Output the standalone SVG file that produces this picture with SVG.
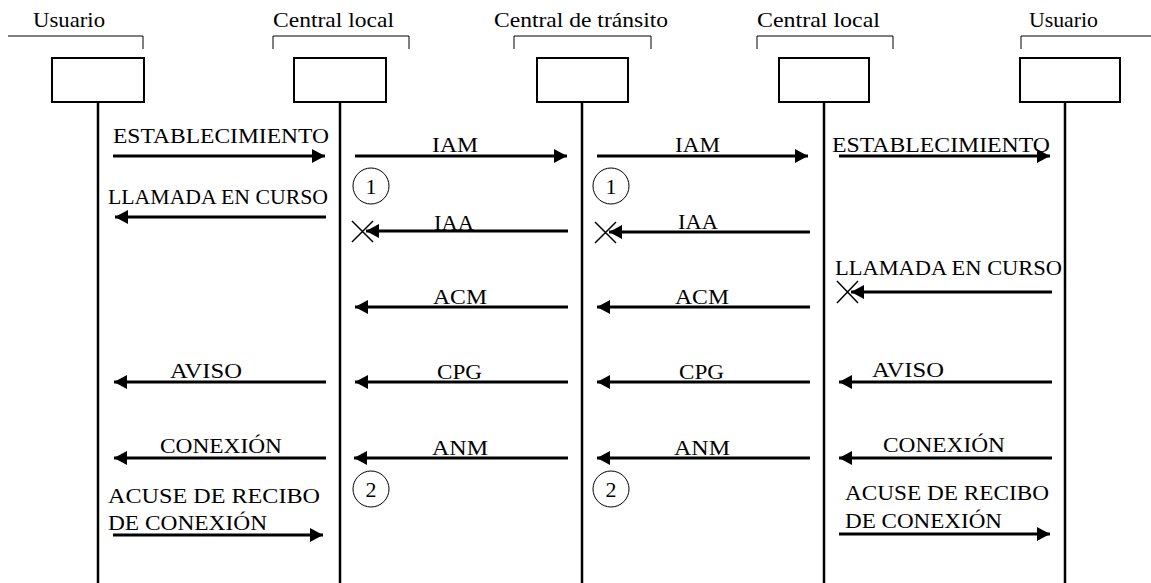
<svg xmlns="http://www.w3.org/2000/svg" width="1151" height="583" viewBox="0 0 1151 583" font-family="'Liberation Serif', 'Times New Roman', serif" font-size="22">
<style>
text{font-family:'Liberation Serif','Times New Roman',serif;font-size:22px;fill:#000}
.br{fill:none;stroke:#000;stroke-width:1}
.box{fill:#fff;stroke:#000;stroke-width:2}
.life{stroke:#000;stroke-width:2.5}
.msg{stroke:#000;stroke-width:3;fill:none;marker-end:url(#ah)}
.x{stroke:#000;stroke-width:1.5;fill:none}
.c{fill:none;stroke:#000;stroke-width:1}
.n{text-anchor:middle}
</style>
<defs>
<marker id="ah" markerUnits="userSpaceOnUse" viewBox="0 0 13 14" refX="13" refY="7" markerWidth="13" markerHeight="14" orient="auto">
<path d="M0,0 L13,7 L0,14 Z" fill="#000"/>
</marker>
</defs>
<rect width="1151" height="583" fill="#fff"/>
<g id="node-usuario-a">
<text x="33" y="27" textLength="72" lengthAdjust="spacingAndGlyphs">Usuario</text>
<path class="br" d="M8,36 H143 V49"/>
<line class="life" x1="98" y1="102" x2="98" y2="583"/>
<rect class="box" x="52" y="58" width="92" height="44"/>
</g>
<g id="node-central-local-a">
<text x="273" y="27" textLength="121" lengthAdjust="spacingAndGlyphs">Central local</text>
<path class="br" d="M273,49 V36 H409 V49"/>
<line class="life" x1="340" y1="102" x2="340" y2="583"/>
<rect class="box" x="294" y="58" width="92" height="44"/>
</g>
<g id="node-central-transito">
<text x="494" y="27" textLength="174" lengthAdjust="spacingAndGlyphs">Central de tránsito</text>
<path class="br" d="M514,49 V36 H651 V49"/>
<line class="life" x1="582" y1="102" x2="582" y2="583"/>
<rect class="box" x="537" y="58" width="91" height="44"/>
</g>
<g id="node-central-local-b">
<text x="757" y="27" textLength="123" lengthAdjust="spacingAndGlyphs">Central local</text>
<path class="br" d="M757,49 V36 H893 V49"/>
<line class="life" x1="824" y1="102" x2="824" y2="583"/>
<rect class="box" x="779" y="58" width="90" height="44"/>
</g>
<g id="node-usuario-b">
<text x="1029" y="27" textLength="69" lengthAdjust="spacingAndGlyphs">Usuario</text>
<path class="br" d="M1021,49 V36 H1151"/>
<line class="life" x1="1065" y1="102" x2="1065" y2="583"/>
<rect class="box" x="1020" y="58" width="100" height="44"/>
</g>
<g id="connectors">
<line class="msg" x1="113" y1="156" x2="325" y2="156"/>
<line class="msg" x1="355" y1="156" x2="567" y2="156"/>
<line class="msg" x1="597" y1="156" x2="808" y2="156"/>
<line class="msg" x1="839" y1="156" x2="1050" y2="156"/>
<line class="msg" x1="326" y1="217" x2="115" y2="217"/>
<line class="msg" x1="568" y1="231" x2="366" y2="231"/>
<line class="msg" x1="810" y1="232" x2="609" y2="232"/>
<line class="msg" x1="1052" y1="292" x2="851" y2="292"/>
<line class="msg" x1="568" y1="307" x2="355" y2="307"/>
<line class="msg" x1="810" y1="307" x2="597" y2="307"/>
<line class="msg" x1="326" y1="382" x2="114" y2="382"/>
<line class="msg" x1="568" y1="382" x2="355" y2="382"/>
<line class="msg" x1="810" y1="382" x2="597" y2="382"/>
<line class="msg" x1="1052" y1="382" x2="839" y2="382"/>
<line class="msg" x1="326" y1="458" x2="114" y2="458"/>
<line class="msg" x1="568" y1="458" x2="354" y2="458"/>
<line class="msg" x1="810" y1="458" x2="597" y2="458"/>
<line class="msg" x1="1052" y1="458" x2="839" y2="458"/>
<line class="msg" x1="113" y1="535" x2="323" y2="535"/>
<line class="msg" x1="839" y1="534" x2="1050" y2="534"/>
<path class="x" d="M352,221 L373,242 M352,242 L373,221"/>
<path class="x" d="M595,222 L616,243 M595,243 L616,222"/>
<path class="x" d="M837,281 L858,303 M837,303 L858,281"/>
<circle class="c" cx="371" cy="186" r="18"/>
<circle class="c" cx="611" cy="186" r="18"/>
<circle class="c" cx="371" cy="489" r="18"/>
<circle class="c" cx="611" cy="489" r="18"/>
<text class="n" x="371" y="194">1</text>
<text class="n" x="611" y="194">1</text>
<text class="n" x="371" y="497">2</text>
<text class="n" x="611" y="497">2</text>
<text x="113" y="143" textLength="216" lengthAdjust="spacingAndGlyphs">ESTABLECIMIENTO</text>
<text x="432" y="152" textLength="46" lengthAdjust="spacingAndGlyphs">IAM</text>
<text x="675" y="152" textLength="45" lengthAdjust="spacingAndGlyphs">IAM</text>
<text x="832" y="152" textLength="218" lengthAdjust="spacingAndGlyphs">ESTABLECIMIENTO</text>
<text x="108" y="204" textLength="220" lengthAdjust="spacingAndGlyphs">LLAMADA EN CURSO</text>
<text x="434" y="230" textLength="40" lengthAdjust="spacingAndGlyphs">IAA</text>
<text x="678" y="229" textLength="40" lengthAdjust="spacingAndGlyphs">IAA</text>
<text x="835" y="275" textLength="227" lengthAdjust="spacingAndGlyphs">LLAMADA EN CURSO</text>
<text x="433" y="304" textLength="54" lengthAdjust="spacingAndGlyphs">ACM</text>
<text x="675" y="304" textLength="54" lengthAdjust="spacingAndGlyphs">ACM</text>
<text x="170" y="378" textLength="72" lengthAdjust="spacingAndGlyphs">AVISO</text>
<text x="437" y="379" textLength="45" lengthAdjust="spacingAndGlyphs">CPG</text>
<text x="679" y="379" textLength="45" lengthAdjust="spacingAndGlyphs">CPG</text>
<text x="872" y="377" textLength="72" lengthAdjust="spacingAndGlyphs">AVISO</text>
<text x="160" y="453" textLength="122" lengthAdjust="spacingAndGlyphs">CONEXIÓN</text>
<text x="432" y="455" textLength="56" lengthAdjust="spacingAndGlyphs">ANM</text>
<text x="674" y="455" textLength="56" lengthAdjust="spacingAndGlyphs">ANM</text>
<text x="883" y="452" textLength="122" lengthAdjust="spacingAndGlyphs">CONEXIÓN</text>
<text x="108" y="503" textLength="212" lengthAdjust="spacingAndGlyphs">ACUSE DE RECIBO</text>
<text x="108" y="530" textLength="159" lengthAdjust="spacingAndGlyphs">DE CONEXIÓN</text>
<text x="845" y="500" textLength="204" lengthAdjust="spacingAndGlyphs">ACUSE DE RECIBO</text>
<text x="845" y="528" textLength="157" lengthAdjust="spacingAndGlyphs">DE CONEXIÓN</text>
</g>
</svg>
